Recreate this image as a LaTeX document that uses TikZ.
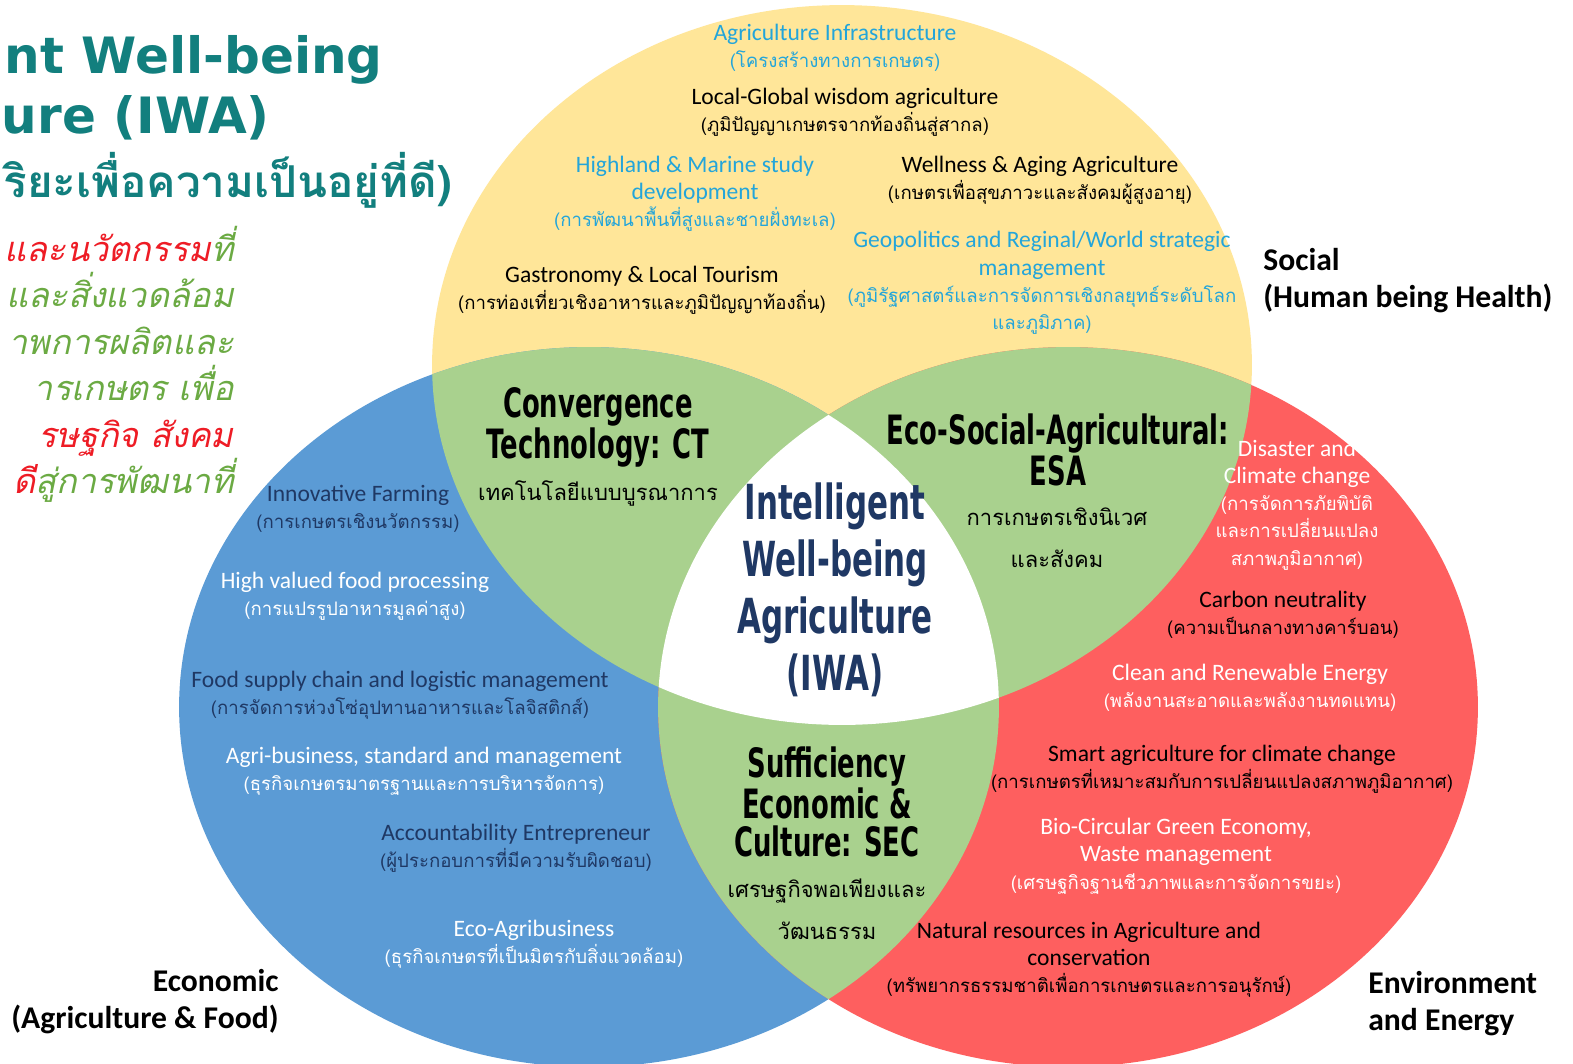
\documentclass[tikz,border=0pt]{standalone}
\usepackage{fontspec}
\setmainfont{Carlito}
\newfontfamily\thaifont[Script=Thai]{Loma}
\newfontfamily\titlefont{DejaVu Sans}
\newfontfamily\impfont[FakeStretch=0.64]{DejaVu Sans}
\definecolor{iwaYellow}{HTML}{FFE699}
\definecolor{iwaBlue}{HTML}{5B9BD5}
\definecolor{iwaRed}{HTML}{FE5F5F}
\definecolor{iwaGreen}{HTML}{A9D18E}
\definecolor{iwaCyan}{HTML}{23A5DA}
\definecolor{iwaNavy}{HTML}{1F3864}
\definecolor{iwaTeal}{HTML}{127F7E}
\definecolor{iwaHot}{HTML}{EE1C25}
\definecolor{iwaLeaf}{HTML}{6BAA43}
\usepackage{tikz}
\usetikzlibrary{positioning}

\newcommand{\thln}[1]{{\thaifont\fontsize{10.6}{15.5}\selectfont #1}}

\tikzset{
  itemtxt/.style={align=center, inner sep=0pt, font=\fontsize{13.4}{15.5}\selectfont},
  lenshead/.style={align=center, inner sep=0pt, font=\impfont\bfseries\fontsize{23}{22}\selectfont},
  lensthai/.style={align=center, inner sep=0pt, font=\thaifont\fontsize{12.5}{24}\selectfont},
  corehead/.style={align=center, inner sep=0pt, text=iwaNavy, font=\impfont\bfseries\fontsize{27.5}{32.5}\selectfont},
  dimlabel/.style={inner sep=0pt, font=\bfseries\fontsize{18}{21}\selectfont}
}

\begin{document}
\begin{tikzpicture}[x=0.02cm, y=-0.02cm]
  \useasboundingbox (0,0) rectangle (1573,1063);
  \clip (0,0) rectangle (1573,1063);
  \fill[white] (0,0) rectangle (1573,1063);

  % three fields
  \fill[iwaYellow] (842,365) ellipse [x radius=8.2cm, y radius=7.2cm];
  \fill[iwaBlue] (589,707) ellipse [x radius=8.2cm, y radius=7.2cm];
  \fill[iwaRed] (1068,707) ellipse [x radius=8.2cm, y radius=7.2cm];
  % pairwise overlaps
  \begin{scope}
    \clip (842,365) ellipse [x radius=8.2cm, y radius=7.2cm];
    \fill[iwaGreen] (589,707) ellipse [x radius=8.2cm, y radius=7.2cm];
    \fill[iwaGreen] (1068,707) ellipse [x radius=8.2cm, y radius=7.2cm];
  \end{scope}
  \begin{scope}
    \clip (589,707) ellipse [x radius=8.2cm, y radius=7.2cm];
    \fill[iwaGreen] (1068,707) ellipse [x radius=8.2cm, y radius=7.2cm];
  \end{scope}
  % core
  \begin{scope}
    \clip (842,365) ellipse [x radius=8.2cm, y radius=7.2cm];
    \clip (589,707) ellipse [x radius=8.2cm, y radius=7.2cm];
    \fill[white] (1068,707) ellipse [x radius=8.2cm, y radius=7.2cm];
  \end{scope}

  % title (cut at the left edge)
  \node[anchor=base east, inner sep=0pt, text=iwaTeal, font=\titlefont\bfseries\fontsize{28.5}{36}\selectfont] (titleA) at (383,73) {nt Well-being};
  \node[anchor=base east, inner sep=0pt, text=iwaTeal, font=\titlefont\bfseries\fontsize{28.5}{36}\selectfont] (titleB) at (270,133) {ure (IWA)};
  \node[anchor=base east, inner sep=0pt, text=iwaTeal, font=\thaifont\bfseries\fontsize{25}{30}\selectfont] (titleC) at (452,197) {ริยะเพื่อความเป็นอยู่ที่ดี)};
  \node[anchor=north east, inner sep=0pt, align=right, font=\thaifont\itshape\fontsize{19.5}{26.4}\selectfont] (goal) at (234,226)
    {\textcolor{iwaHot}{และนวัตกรรม}\textcolor{iwaLeaf}{ที่}\\
     \textcolor{iwaLeaf}{และสิ่งแวดล้อม}\\
     \textcolor{iwaLeaf}{าพการผลิตและ}\\
     \textcolor{iwaLeaf}{ารเกษตร เพื่อ}\\
     \textcolor{iwaHot}{รษฐกิจ สังคม}\\
     \textcolor{iwaHot}{ดี}\textcolor{iwaLeaf}{สู่การพัฒนาที่}};

  % social field
  \node[itemtxt, text=iwaCyan] (infra) at (835,48) {Agriculture Infrastructure\\\thln{(โครงสร้างทางการเกษตร)}};
  \node[itemtxt] (wisdom) at (845,112) {Local-Global wisdom agriculture\\\thln{(ภูมิปัญญาเกษตรจากท้องถิ่นสู่สากล)}};
  \node[itemtxt, text=iwaCyan] (highland) at (695,194) {Highland \& Marine study\\development\\\thln{(การพัฒนาพื้นที่สูงและชายฝั่งทะเล)}};
  \node[itemtxt] (wellness) at (1040,180) {Wellness \& Aging Agriculture\\\thln{(เกษตรเพื่อสุขภาวะและสังคมผู้สูงอายุ)}};
  \node[itemtxt, text=iwaCyan] (geopol) at (1042,283) {Geopolitics and Reginal/World strategic\\management\\\thln{(ภูมิรัฐศาสตร์และการจัดการเชิงกลยุทธ์ระดับโลก}\\\thln{และภูมิภาค)}};
  \node[itemtxt] (gastro) at (642,290) {Gastronomy \& Local Tourism\\\thln{(การท่องเที่ยวเชิงอาหารและภูมิปัญญาท้องถิ่น)}};

  % economic field
  \node[itemtxt, text=iwaNavy] (innov) at (358,509) {Innovative Farming\\\thln{(การเกษตรเชิงนวัตกรรม)}};
  \node[itemtxt, text=white] (highval) at (355,596) {High valued food processing\\\thln{(การแปรรูปอาหารมูลค่าสูง)}};
  \node[itemtxt, text=iwaNavy] (supply) at (400,695) {Food supply chain and logistic management\\\thln{(การจัดการห่วงโซ่อุปทานอาหารและโลจิสติกส์)}};
  \node[itemtxt, text=white] (agribiz) at (424,771) {Agri-business, standard and management\\\thln{(ธุรกิจเกษตรมาตรฐานและการบริหารจัดการ)}};
  \node[itemtxt, text=iwaNavy] (account) at (516,848) {Accountability Entrepreneur\\\thln{(ผู้ประกอบการที่มีความรับผิดชอบ)}};
  \node[itemtxt, text=white] (ecoagri) at (534,944) {Eco-Agribusiness\\\thln{(ธุรกิจเกษตรที่เป็นมิตรกับสิ่งแวดล้อม)}};

  % environment field
  \node[itemtxt, text=white] (disaster) at (1297,505) {Disaster and\\Climate change\\\thln{(การจัดการภัยพิบัติ}\\\thln{และการเปลี่ยนแปลง}\\\thln{สภาพภูมิอากาศ)}};
  \node[itemtxt] (carbon) at (1283,615) {Carbon neutrality\\\thln{(ความเป็นกลางทางคาร์บอน)}};
  \node[itemtxt, text=white] (clean) at (1250,688) {Clean and Renewable Energy\\\thln{(พลังงานสะอาดและพลังงานทดแทน)}};
  \node[itemtxt] (smart) at (1222,769) {Smart agriculture for climate change\\\thln{(การเกษตรที่เหมาะสมกับการเปลี่ยนแปลงสภาพภูมิอากาศ)}};
  \node[itemtxt, text=white] (bcg) at (1176,856) {Bio-Circular Green Economy,\\Waste management\\\thln{(เศรษฐกิจฐานชีวภาพและการจัดการขยะ)}};
  \node[itemtxt] (natural) at (1089,960) {Natural resources in Agriculture and\\conservation\\\thln{(ทรัพยากรธรรมชาติเพื่อการเกษตรและการอนุรักษ์)}};

  % overlaps
  \node[lenshead] (ct) at (598,427) {Convergence\\Technology: CT};
  \node[lensthai] (ctThai) at (598,493) {เทคโนโลยีแบบบูรณาการ};
  \node[lenshead] (esa) at (1058,450) {Eco-Social-Agricultural:\\ESA};
  \node[lensthai] (esaThai) at (1057,538) {การเกษตรเชิงนิเวศ\\และสังคม};
  \node[lenshead] (sec) at (827,802) {Sufficiency\\Economic \&\\Culture: SEC};
  \node[lensthai] (secThai) at (827,909) {เศรษฐกิจพอเพียงและ\\วัฒนธรรม};
  \node[corehead] (iwa) at (835,590) {Intelligent\\Well-being\\Agriculture\\(IWA)};

  % field names
  \node[dimlabel, anchor=west, align=left] (social) at (1263,281) {Social\\(Human being Health)};
  \node[dimlabel, anchor=east, align=right] (economic) at (279,1002) {Economic\\(Agriculture \& Food)};
  \node[dimlabel, anchor=west, align=left] (environ) at (1368,1004) {Environment\\and Energy};
\end{tikzpicture}
\end{document}
